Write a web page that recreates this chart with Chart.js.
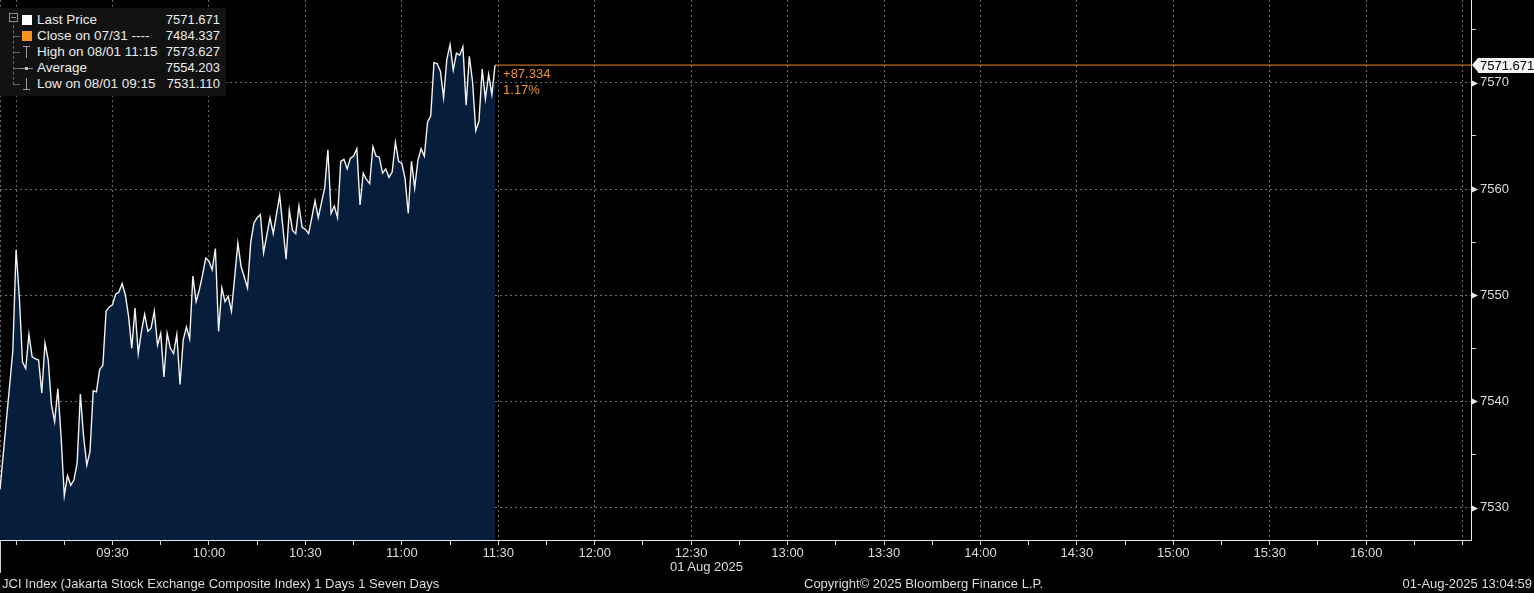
<!DOCTYPE html>
<html>
<head>
<meta charset="utf-8">
<script src="https://cdn.jsdelivr.net/npm/chart.js@4.4.0/dist/chart.umd.min.js"></script>
<style>
    html, body { margin: 0; padding: 0; background: #000; }
    #wrap { position: relative; width: 1534px; height: 593px; overflow: hidden;
            font-family: "Liberation Sans", Arial, sans-serif; color: #dcdcdc; }
    #wrap canvas { position: absolute; left: 0; top: 0; }
    .txt { position: absolute; white-space: nowrap; font-size: 13px; line-height: 14px; color: #dcdcdc; }

    /* legend box */
    #legend { position: absolute; left: 0; top: 8px; width: 226px; height: 88px; background: #121212; }
    #legend .tree { position: absolute; left: 13px; top: 12px; height: 65px; border-left: 1px dashed #6a6a6a; }
    #legend .minus { position: absolute; left: 9px; top: 5px; width: 7px; height: 7px; border: 1px solid #8a8a8a; background: #121212; }
    #legend .minus:after { content: ""; position: absolute; left: 1px; top: 3px; width: 5px; height: 1px; background: #8a8a8a; }
    .row { position: absolute; left: 0; width: 226px; height: 16px; line-height: 16px; font-size: 13.5px; color: #ececec; }
    .row .lbl { position: absolute; left: 37px; top: 0; }
    .row .val { position: absolute; right: 6px; top: 0; font-size: 13px; }
    .row .stub { position: absolute; left: 14px; top: 8px; width: 6px; border-top: 1px dashed #6a6a6a; }
    .row .sq { position: absolute; left: 22px; top: 3px; width: 10px; height: 10px; }
    .row .vbar { position: absolute; left: 26px; top: 2px; width: 1px; height: 12px; background: #9a9a9a; }
    .row .hbar { position: absolute; left: 23px; width: 7px; height: 1px; background: #9a9a9a; }
    .row .dash { position: absolute; left: 20px; top: 8px; width: 13px; height: 1px; background: #8a8a8a; }
    .row .dot { position: absolute; left: 25px; top: 7px; width: 3px; height: 3px; background: #bdbdbd; }

    #tag { position: absolute; left: 1471px; width: 63px; height: 15px; }
    #tag .arrow { position: absolute; left: 1px; top: 0; width: 0; height: 0;
                  border-top: 7.5px solid transparent; border-bottom: 7.5px solid transparent; border-right: 6px solid #f4f4f4; }
    #tag .box { position: absolute; left: 7px; top: 0; width: 56px; height: 15px; background: #f4f4f4;
                color: #000; font-size: 13px; line-height: 15px; padding-left: 2px; box-sizing: border-box; }
    .chg { position: absolute; font-size: 13px; line-height: 14px; color: #f0922f; white-space: nowrap; }
</style>
</head>
<body>
<div id="wrap">
    <canvas id="chart" width="1534" height="593"></canvas>

    <div id="legend">
        <div class="tree"></div>
        <div class="minus"></div>
        <div class="row" style="top:4px"><span class="sq" style="background:#ffffff"></span><span class="lbl">Last Price</span><span class="val" id="v-last"></span></div>
        <div class="row" style="top:20px"><span class="stub"></span><span class="sq" style="background:#f7941d"></span><span class="lbl">Close on 07/31 ----</span><span class="val" id="v-close"></span></div>
        <div class="row" style="top:36px"><span class="stub"></span><span class="vbar"></span><span class="hbar" style="top:2px"></span><span class="lbl">High on 08/01 11:15</span><span class="val" id="v-high"></span></div>
        <div class="row" style="top:52px"><span class="stub"></span><span class="dash"></span><span class="dot"></span><span class="lbl">Average</span><span class="val" id="v-avg"></span></div>
        <div class="row" style="top:68px"><span class="stub"></span><span class="vbar"></span><span class="hbar" style="top:13px"></span><span class="lbl">Low on 08/01 09:15</span><span class="val" id="v-low"></span></div>
    </div>

    <div id="tag"><div class="arrow"></div><div class="box" id="tag-text"></div></div>
    <div class="chg" id="chg-abs"></div>
    <div class="chg" id="chg-pct"></div>

    <div class="txt" style="left:0;top:540px;height:33px;border-left:1px solid #d0d0d0;"></div>
    <div class="txt" id="date-lbl" style="left:670px;top:560px;">01 Aug 2025</div>
    <div class="txt" style="left:2px;top:577px;">JCI Index (Jakarta Stock Exchange Composite Index) 1 Days 1 Seven Days</div>
    <div class="txt" style="left:804px;top:577px;">Copyright© 2025 Bloomberg Finance L.P.</div>
    <div class="txt" style="right:2px;top:577px;">01-Aug-2025 13:04:59</div>
</div>

<script>
// minutes after midnight, one reading per minute bar (08:55 .. 11:29)
const times = [
    535, 539, 540, 541, 542, 543, 544, 545, 546, 547, 548, 549, 550, 551, 552, 553, 554, 555, 556, 557,
    558, 559, 560, 561, 562, 563, 564, 565, 566, 567, 568, 569, 570, 571, 572, 573, 574, 575, 576, 577,
    578, 579, 580, 581, 582, 583, 584, 585, 586, 587, 588, 589, 590, 591, 592, 593, 594, 595, 596, 597,
    598, 599, 600, 601, 602, 603, 604, 605, 606, 607, 609, 610, 612, 613, 614, 615, 616, 617, 619, 620,
    622, 624, 625, 626, 627, 628, 629, 630, 631, 632, 633, 634, 635, 636, 637, 638, 639, 640, 641, 642,
    643, 644, 645, 646, 647, 648, 649, 650, 651, 652, 653, 654, 655, 656, 657, 658, 659, 660, 661, 662,
    663, 664, 665, 666, 667, 668, 669, 670, 671, 672, 673, 674, 675, 676, 677, 678, 679, 680, 681, 682,
    683, 684, 685, 686, 687, 688, 689
];
const prices = [
    7531.7, 7544.8, 7554.3, 7549.9, 7543.7, 7543.1, 7546.3, 7544.2, 7544.0, 7543.9,
    7540.8, 7545.5, 7543.9, 7539.7, 7538.1, 7541.2, 7536.7, 7531.1, 7533.0, 7532.1,
    7532.6, 7534.2, 7540.7, 7536.7, 7534.0, 7535.3, 7541.0, 7540.9, 7543.0, 7543.4,
    7548.5, 7548.9, 7549.1, 7550.1, 7550.3, 7551.1, 7550.0, 7548.0, 7545.0, 7548.8,
    7544.5, 7546.6, 7548.2, 7546.6, 7546.9, 7548.5, 7545.3, 7546.4, 7542.3, 7546.4,
    7545.0, 7544.5, 7546.3, 7541.6, 7545.8, 7547.0, 7545.9, 7551.8, 7549.4, 7550.5,
    7551.9, 7553.5, 7553.2, 7552.4, 7554.4, 7546.6, 7550.7, 7549.4, 7549.9, 7548.5,
    7554.9, 7552.7, 7550.7, 7555.0, 7556.8, 7557.3, 7557.6, 7554.0, 7557.3, 7555.8,
    7559.4, 7553.4, 7558.0, 7556.1, 7555.8, 7558.4, 7556.4, 7556.2, 7555.8, 7557.3,
    7558.9, 7557.3, 7558.7, 7560.1, 7563.7, 7557.7, 7558.4, 7557.3, 7562.6, 7562.8,
    7561.9, 7562.9, 7563.1, 7563.8, 7558.5, 7561.5, 7560.9, 7560.5, 7564.0, 7563.1,
    7563.0, 7561.5, 7561.9, 7561.1, 7561.6, 7564.4, 7562.6, 7562.4, 7561.0, 7557.7,
    7562.6, 7560.1, 7562.7, 7563.8, 7563.1, 7566.3, 7566.9, 7571.9, 7571.8, 7571.1,
    7568.6, 7572.2, 7573.6, 7571.2, 7572.8, 7572.6, 7573.4, 7567.9, 7572.5, 7570.1,
    7565.5, 7566.4, 7571.3, 7568.5, 7570.8, 7568.9, 7571.671
];

const lastPrice = 7571.671;
const prevClose = 7484.337;
const highPrice = 7573.627;
const avgPrice = 7554.203;
const lowPrice = 7531.110;
const netChange = '+87.334';
const pctChange = '1.17%';

// x axis: minutes after midnight
const xMin = 535;
const xMax = 992.6;
const xTickTimes = [570, 600, 630, 660, 690, 720, 750, 780, 810, 840, 870, 900, 930, 960];
const xTickLabels = ['09:30', '10:00', '10:30', '11:00', '11:30', '12:00', '12:30', '13:00',
                     '13:30', '14:00', '14:30', '15:00', '15:30', '16:00'];
const xMarks = [535, 540, 555, 570, 585, 600, 615, 630, 645, 660, 675, 690, 705, 720, 735, 750, 765,
                780, 795, 810, 825, 840, 855, 870, 885, 900, 915, 930, 945, 960, 975, 990];

// y axis
const yMin = 7526.95;
const yMax = 7577.8;
const yMarks = [7530, 7535, 7540, 7545, 7550, 7555, 7560, 7565, 7570, 7575];
const yLabels = [7530, 7540, 7550, 7560, 7570];

const FONT = '"Liberation Sans", Arial, sans-serif';
const GRID = '#6c6c6c';

document.getElementById('v-last').textContent = lastPrice.toFixed(3);
document.getElementById('v-close').textContent = prevClose.toFixed(3);
document.getElementById('v-high').textContent = highPrice.toFixed(3);
document.getElementById('v-avg').textContent = avgPrice.toFixed(3);
document.getElementById('v-low').textContent = lowPrice.toFixed(3);

const mainPoints = times.map((t, i) => ({ x: t, y: prices[i] }));
const lastTime = times[times.length - 1];

// little right-pointing arrows on the labelled price ticks
const tickArrows = {
    id: 'tickArrows',
    afterDraw(chart) {
        const { ctx, scales: { y }, chartArea } = chart;
        ctx.save();
        ctx.fillStyle = '#e6e6e6';
        yLabels.forEach(v => {
            const py = Math.round(y.getPixelForValue(v)) + 0.5;
            ctx.beginPath();
            ctx.moveTo(chartArea.right + 1, py - 3);
            ctx.lineTo(chartArea.right + 7, py);
            ctx.lineTo(chartArea.right + 1, py + 3);
            ctx.closePath();
            ctx.fill();
        });
        ctx.restore();
    }
};

const chart = new Chart(document.getElementById('chart'), {
    type: 'line',
    data: {
        datasets: [
            {
                data: mainPoints,
                borderColor: '#f2f2f2',
                borderWidth: 1.4,
                backgroundColor: '#061d3b',
                fill: 'start',
                pointRadius: 0,
                tension: 0
            },
            {
                data: [{ x: lastTime, y: lastPrice }, { x: xMax, y: lastPrice }],
                borderColor: '#f0861e',
                borderWidth: 1,
                pointRadius: 0,
                fill: false
            }
        ]
    },
    options: {
        responsive: false,
        animation: false,
        layout: { padding: 0 },
        plugins: { legend: { display: false }, tooltip: { enabled: false } },
        scales: {
            x: {
                type: 'linear',
                min: xMin,
                max: xMax,
                afterBuildTicks: s => { s.ticks = xMarks.map(v => ({ value: v })); },
                afterFit: s => { s.height = 53; s.paddingLeft = 0; s.paddingRight = 0; },
                grid: {
                    color: c => (c.tick && (c.tick.value === xMin || (c.tick.value - 540) % 30 === 0)) ? GRID : 'rgba(0,0,0,0)',
                    tickColor: c => (c.tick && c.tick.value === xMin) ? 'rgba(0,0,0,0)' : '#d8d8d8',
                    tickLength: 5,
                    lineWidth: 1
                },
                border: { color: '#e8e8e8', width: 1, dash: [2, 3] },
                ticks: {
                    autoSkip: false,
                    maxRotation: 0,
                    padding: 1,
                    color: '#dcdcdc',
                    font: { family: FONT, size: 13 },
                    callback: v => {
                        const i = xTickTimes.indexOf(v);
                        return i >= 0 ? xTickLabels[i] : '';
                    }
                }
            },
            y: {
                position: 'right',
                min: yMin,
                max: yMax,
                afterBuildTicks: s => { s.ticks = yMarks.map(v => ({ value: v })); },
                afterFit: s => { s.width = 63; s.paddingTop = 0; s.paddingBottom = 0; },
                grid: {
                    color: c => (c.tick && yLabels.includes(c.tick.value)) ? GRID : 'rgba(0,0,0,0)',
                    tickColor: c => (c.tick && yLabels.includes(c.tick.value)) ? 'rgba(0,0,0,0)' : '#cfcfcf',
                    tickLength: 5,
                    lineWidth: 1
                },
                border: { color: '#e8e8e8', width: 1, dash: [2, 3] },
                ticks: {
                    padding: 4,
                    color: '#dcdcdc',
                    font: { family: FONT, size: 13 },
                    callback: v => yLabels.includes(v) ? String(v) : ''
                }
            }
        }
    },
    plugins: [tickArrows]
});

// price tag and change text, placed through the chart scales
const yPx = chart.scales.y.getPixelForValue(lastPrice);
const xPx = chart.scales.x.getPixelForValue(lastTime);
const tag = document.getElementById('tag');
tag.style.top = (Math.round(yPx) - 7) + 'px';
document.getElementById('tag-text').textContent = lastPrice.toFixed(3);
const abs = document.getElementById('chg-abs');
abs.textContent = netChange;
abs.style.left = (xPx + 8) + 'px';
abs.style.top = (yPx + 2) + 'px';
const pct = document.getElementById('chg-pct');
pct.textContent = pctChange;
pct.style.left = (xPx + 8) + 'px';
pct.style.top = (yPx + 18) + 'px';
</script>
</body>
</html>
